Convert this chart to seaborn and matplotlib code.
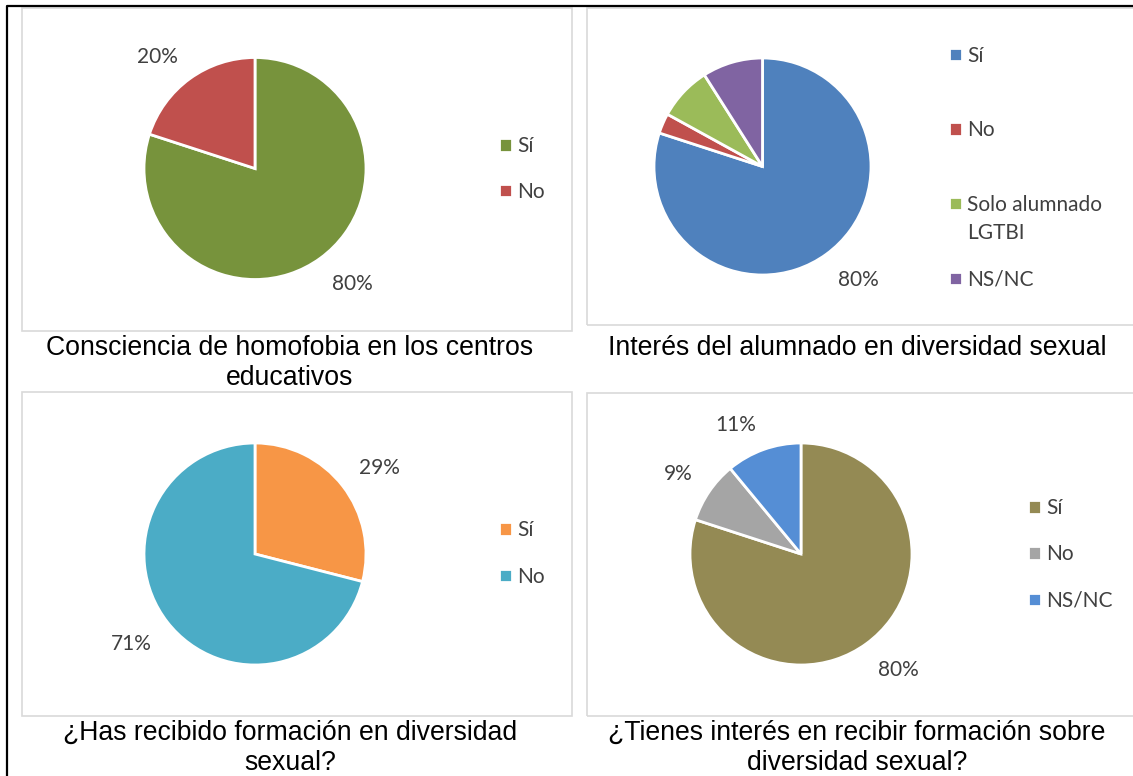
import seaborn as sns
import matplotlib.pyplot as plt
from matplotlib.patches import Rectangle
from matplotlib.lines import Line2D

W, H = 1133, 776

# data
cats_homofobia = ['Sí', 'No']
vals_homofobia = [80, 20]
show_homofobia = [True, True]

cats_interes = ['Sí', 'No', 'Solo alumnado', 'NS/NC']
vals_interes = [80, 3, 8, 9]
show_interes = [True, False, False, False]

cats_formacion = ['Sí', 'No']
vals_formacion = [29, 71]
show_formacion = [True, True]

cats_interes_form = ['Sí', 'No', 'NS/NC']
vals_interes_form = [80, 9, 11]
show_interes_form = [True, True, True]

titles = ['Consciencia de homofobia en los centros\neducativos',
          'Interés del alumnado en diversidad sexual',
          '¿Has recibido formación en diversidad\nsexual?',
          '¿Tienes interés en recibir formación sobre\ndiversidad sexual?']

sns.set_theme(style='white')
plt.rcParams['font.family'] = ['Lato', 'DejaVu Sans']

GRAY = '#404040'
LBL_FS = 15
TITLE_FS = 19.2

fig = plt.figure(figsize=(W / 100, H / 100), dpi=100)
fig.patch.set_facecolor('white')


def px_box(x0, y0, x1, y1):
    return [x0 / W, 1 - y1 / H, (x1 - x0) / W, (y1 - y0) / H]


def fy(y):
    return 1 - y / H


# outer black frame (only top and left visible in the crop)
fig.add_artist(Line2D([7 / W, 7 / W, 1.0], [0.0, fy(6), fy(6)],
                      transform=fig.transFigure, color='black', lw=1.6))

# light gray chart areas
for x0, y0, x1, y1 in [(22, 8, 572, 331), (587, 8, 1140, 325),
                       (22, 392, 572, 716), (587, 393, 1140, 716)]:
    fig.add_artist(Rectangle((x0 / W, fy(y1)), (x1 - x0) / W, (y1 - y0) / H,
                             transform=fig.transFigure, fill=False,
                             edgecolor='#D9D9D9', lw=1.2))


def draw_pie(cx, cy, r, vals, cats, show, palette):
    ax = fig.add_axes(px_box(cx - r, cy - r, cx + r, cy + r))
    labels = [f'{v}%' if s else '' for v, s in zip(vals, show)]
    # outside-end labels: text corner sits ~20px outside the rim
    wedges, texts = ax.pie(vals, colors=sns.color_palette(palette),
                           startangle=90, counterclock=False,
                           labels=labels, labeldistance=1 + 20 / r,
                           wedgeprops=dict(edgecolor='white', linewidth=2),
                           textprops=dict(color=GRAY, fontsize=LBL_FS))
    for t in texts:
        t.set_va('baseline' if t.get_position()[1] > 0 else 'top')
    ax.set_xlim(-1, 1)
    ax.set_ylim(-1, 1)
    ax.axis('off')
    return ax, wedges


def add_legend(ax, wedges, cats, x, y, pitch):
    fs_px = LBL_FS * 100 / 72
    row_h = fs_px * 0.93
    leg = ax.legend(wedges, cats, loc='upper left',
                    bbox_to_anchor=(x / W, fy(y - row_h / 2)),
                    bbox_transform=fig.transFigure, frameon=False,
                    fontsize=LBL_FS, labelcolor=GRAY,
                    handlelength=0.6, handleheight=0.6, handletextpad=0.28,
                    borderpad=0, borderaxespad=0,
                    labelspacing=(pitch - row_h) / fs_px)
    return leg


ax1, w1 = draw_pie(255, 168.5, 111, vals_homofobia, cats_homofobia,
                   show_homofobia, ['#77933C', '#C0504D'])
add_legend(ax1, w1, cats_homofobia, 499, 146, 45)

ax2, w2 = draw_pie(762.5, 166.5, 108.5, vals_interes, cats_interes,
                   show_interes, ['#4F81BD', '#C0504D', '#9BBB59', '#8064A2'])
leg2 = add_legend(ax2, w2, cats_interes, 949, 55.5, 74)

ax3, w3 = draw_pie(255, 554, 111, vals_formacion, cats_formacion,
                   show_formacion, ['#F79646', '#4BACC6'])
add_legend(ax3, w3, cats_formacion, 499, 530, 46)

ax4, w4 = draw_pie(801, 554, 111, vals_interes_form, cats_interes_form,
                   show_interes_form, ['#948A54', '#A5A5A5', '#558ED5'])
add_legend(ax4, w4, cats_interes_form, 1028, 508, 45.5)

# second line of the "Solo alumnado LGTBI" legend entry
fig.canvas.draw()
renderer = fig.canvas.get_renderer()
bb = leg2.get_texts()[2].get_window_extent(renderer)
fig.text(bb.x0 / W, (bb.y0 - 28) / H, 'LGTBI', ha='left', va='bottom',
         fontsize=LBL_FS, color=GRAY)

# chart titles under each area
for (tx, ty), title in zip([(290, 363), (857, 348), (290, 748), (857, 748)], titles):
    fig.text(tx / W, fy(ty), title, ha='center', va='center',
             fontsize=TITLE_FS, color='black', family='Liberation Sans',
             linespacing=1.22)

fig.savefig('out.png', dpi=100, facecolor='white')
